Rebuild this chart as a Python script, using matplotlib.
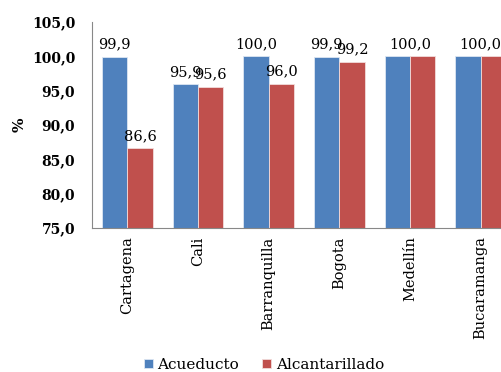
import matplotlib.pyplot as plt
import numpy as np

# ====== data ======
ciudades = ['Cartagena', 'Cali', 'Barranquilla', 'Bogota', 'Medellín', 'Bucaramanga']
acueducto = [99.9, 95.9, 100.0, 99.9, 100.0, 100.0]
alcantarillado = [86.6, 95.6, 96.0, 99.2, 100.0, 100.0]
yticks = [75, 80, 85, 90, 95, 100, 105]
# ==================

c_blue = '#4F81BD'
c_red = '#C0504D'
plt.rcParams['font.family'] = ['DejaVu Serif']

fig = plt.figure(figsize=(5.02, 3.72), dpi=100)
ax = fig.add_axes([92/502, 144/372, 424/502, 206/372])

x = np.arange(len(ciudades))
w = 0.36
ax.bar(x - w/2, acueducto, w, color=c_blue, edgecolor='#dce6f2', linewidth=0.6,
       label='Acueducto', zorder=2)
ax.bar(x + w/2, alcantarillado, w, color=c_red, edgecolor='#f2dcdb', linewidth=0.6,
       label='Alcantarillado', zorder=2)

def fmt(v):
    return f'{v:.1f}'.replace('.', ',')

fs_lab = 10.5
for i, (a, b) in enumerate(zip(acueducto, alcantarillado)):
    if a == b:
        ax.text(x[i], a + 0.8, fmt(a), ha='center', va='bottom', fontsize=fs_lab)
    else:
        ax.text(x[i] - w/2, a + 0.8, fmt(a), ha='center', va='bottom', fontsize=fs_lab)
        ax.text(x[i] + w/2, b + 0.8, fmt(b), ha='center', va='bottom', fontsize=fs_lab)

ax.set_ylim(75, 105)
ax.set_xlim(-0.5, len(ciudades) - 0.5)
ax.set_yticks(yticks)
ax.set_yticklabels([fmt(v) for v in yticks], fontsize=10, fontweight='semibold')
ax.set_xticks(x)
ax.set_xticklabels(ciudades, rotation=90, fontsize=10.5)
ax.tick_params(length=0, pad=6)
ax.tick_params(axis='y', pad=12)
ax.set_ylabel('%', fontsize=11, fontweight='bold', labelpad=4)

for s in ['top', 'right']:
    ax.spines[s].set_visible(False)
ax.spines['left'].set_color('#888888')
ax.spines['bottom'].set_color('#888888')

fig.legend(loc='center', bbox_to_anchor=(264/502, 1 - 365/372), ncol=2, frameon=False,
           fontsize=11, handlelength=0.6, handleheight=0.6, handletextpad=0.3,
           columnspacing=1.5)

fig.savefig('out.png', dpi=100)
